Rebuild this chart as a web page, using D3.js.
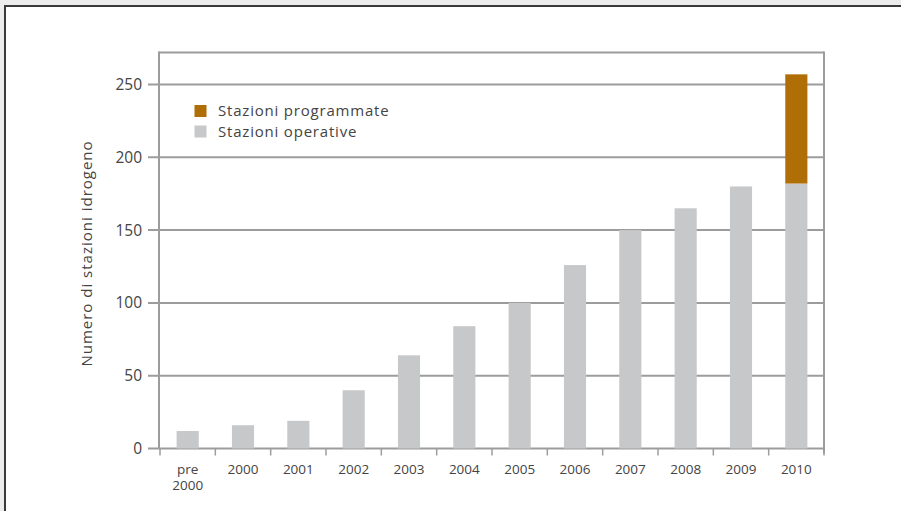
<!DOCTYPE html>
<html>
<head>
<meta charset="utf-8">
<script src="https://cdn.jsdelivr.net/npm/d3@7"></script>
<style>
  html, body { margin: 0; padding: 0; background: #ececec; }
  svg { display: block; }
  text { font-family: "Open Sans", sans-serif; fill: #444; }
</style>
</head>
<body>
<svg id="chart" width="901" height="511"></svg>
<script>
// Hydrogen refuelling stations per year
const categories = ["pre 2000", "2000", "2001", "2002", "2003", "2004", "2005", "2006", "2007", "2008", "2009", "2010"];
const operative  = [12, 16, 19, 40, 64, 84, 100, 126, 150, 165, 180, 182];
const planned    = [0, 0, 0, 0, 0, 0, 0, 0, 0, 0, 0, 75];
const yTicks     = [0, 50, 100, 150, 200, 250];
const seriesNames = ["Stazioni programmate", "Stazioni operative"];
const seriesColors = ["#b06f06", "#c7c8ca"];
const yTitle = "Numero di stazioni idrogeno";

const svg = d3.select("#chart");

// page panel
svg.append("rect").attr("x", 5).attr("y", 6).attr("width", 920).attr("height", 540)
  .attr("fill", "#fff").attr("stroke", "#3a3a3a").attr("stroke-width", 2);

const plotLeft = 159, plotRight = 824, plotTop = 52.5, plotBottom = 448.5;

const x = d3.scaleBand().domain(categories).range([160, plotRight]).paddingInner(0.6).paddingOuter(0.3);
const y = d3.scaleLinear().domain([0, 272]).range([plotBottom, plotTop]);

const gridColor = "#9c9c9c";

// gridlines with left tick
const grid = svg.append("g");
yTicks.forEach(t => {
  grid.append("line").attr("x1", 148).attr("x2", plotRight)
    .attr("y1", y(t)).attr("y2", y(t))
    .attr("stroke", gridColor).attr("stroke-width", 2);
});

// stacked bars
const stackData = categories.map((c, i) => ({ cat: c, op: operative[i], pl: planned[i] }));
const stack = d3.stack().keys(["op", "pl"])(stackData);
const colorFor = { op: seriesColors[1], pl: seriesColors[0] };
svg.append("g").selectAll("g").data(stack).join("g")
  .attr("fill", d => colorFor[d.key])
  .selectAll("rect").data(d => d.filter(p => p[1] > p[0])).join("rect")
  .attr("x", d => x(d.data.cat))
  .attr("width", x.bandwidth())
  .attr("y", d => y(d[1]))
  .attr("height", d => y(d[0]) - y(d[1]));

// frame
const frame = svg.append("g").attr("stroke", gridColor).attr("stroke-width", 2).attr("fill", "none");
frame.append("line").attr("x1", plotLeft).attr("x2", plotLeft).attr("y1", plotTop - 1).attr("y2", plotBottom);
frame.append("line").attr("x1", plotLeft).attr("x2", plotRight).attr("y1", plotTop).attr("y2", plotTop);
frame.append("line").attr("x1", plotRight).attr("x2", plotRight).attr("y1", plotTop - 1).attr("y2", plotBottom + 5);

// y axis labels
const yAxis = d3.axisLeft(y).tickValues(yTicks).tickSize(0).tickPadding(0);
const yg = svg.append("g").attr("transform", `translate(${plotLeft - 17},0)`).call(yAxis);
yg.select(".domain").remove();
yg.selectAll("text").attr("font-size", 15.5).attr("font-family", "Open Sans, sans-serif").attr("fill", "#444");

// x axis: ticks at band boundaries
const bounds = categories.map(c => x(c) - x.step() * x.paddingInner() / 2);
bounds.push(plotRight);
const xg = svg.append("g");
bounds.forEach(b => {
  xg.append("line").attr("x1", b).attr("x2", b).attr("y1", plotBottom).attr("y2", plotBottom + 7)
    .attr("stroke", gridColor).attr("stroke-width", 1.5);
});
categories.forEach(c => {
  const lines = c.split(" ");
  const cx = x(c) + x.bandwidth() / 2;
  lines.forEach((ln, i) => {
    xg.append("text").attr("text-anchor", "middle").attr("font-size", 13.5)
      .attr("x", cx).attr("y", 473.5 + i * 16.5).text(ln);
  });
});

// y title
svg.append("text").attr("transform", `translate(92,${(plotTop + plotBottom) / 2 + 3}) rotate(-90)`)
  .attr("text-anchor", "middle").attr("font-size", 15).attr("letter-spacing", 1).text(yTitle);

// legend
const lg = svg.append("g");
seriesNames.forEach((name, i) => {
  const cy = 111 + i * 20.5;
  lg.append("rect").attr("x", 194.5).attr("y", cy - 6).attr("width", 12).attr("height", 12).attr("fill", seriesColors[i]);
  lg.append("text").attr("x", 218).attr("y", cy + 5).attr("font-size", 15).attr("letter-spacing", 0.8).text(name);
});
</script>
</body>
</html>
